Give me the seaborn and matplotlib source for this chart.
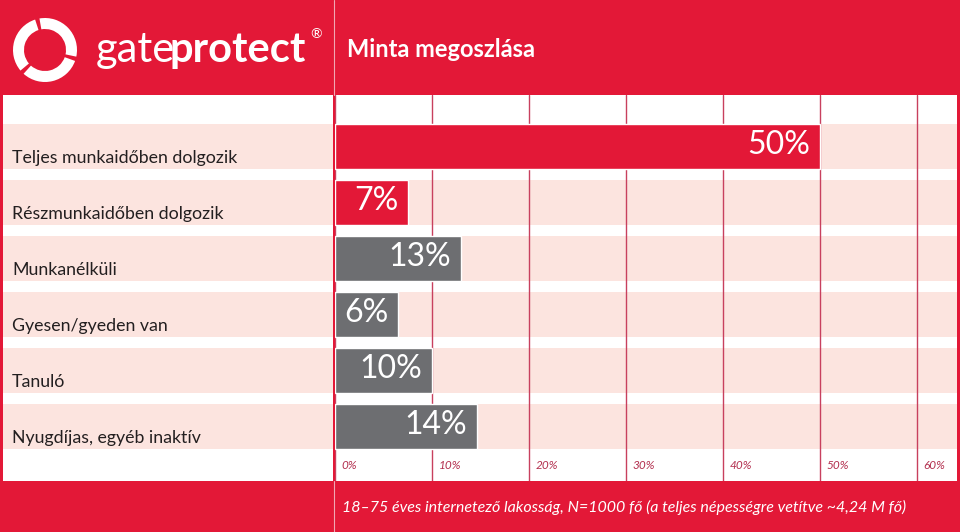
import matplotlib
matplotlib.use("Agg")
from matplotlib import pyplot as plt
from matplotlib.patches import Wedge
import seaborn as sns

# Data
categories = ['Teljes munkaidőben dolgozik', 'Részmunkaidőben dolgozik', 'Munkanélküli',
              'Gyesen/gyeden van', 'Tanuló', 'Nyugdíjas, egyéb inaktív']
shares = [50, 7.5, 13, 6.5, 10, 14.6]
share_labels = ['50%', '7%', '13%', '6%', '10%', '14%']
x_ticks = [0, 10, 20, 30, 40, 50, 60]
x_tick_labels = ['0%', '10%', '20%', '30%', '40%', '50%', '60%']
title = 'Minta megoszlása'
footnote = '18–75 éves internetező lakosság, N=1000 fő (a teljes népességre vetítve ~4,24 M fő)'

RED = '#e31837'
GREY = '#6d6e71'
PINK = '#fce4df'
GRID = '#c8405e'
bar_colors = [RED, RED, GREY, GREY, GREY, GREY]

sns.set_theme(style='white')
plt.rcParams['font.family'] = ['Lato', 'DejaVu Sans']

W, H = 960, 532
fig = plt.figure(figsize=(W / 100, H / 100), dpi=100, facecolor=RED)

def frac_rect(x0, y0, x1, y1):
    # pixel box (top-left origin) -> figure fraction rect
    return [x0 / W, 1 - y1 / H, (x1 - x0) / W, (y1 - y0) / H]

ylim = (5.973, -0.92)

# label panel
lab_ax = fig.add_axes(frac_rect(3, 95, 333, 481))
lab_ax.set_facecolor('white')
lab_ax.set_xlim(0, 1)
lab_ax.set_ylim(*ylim)
for i, name in enumerate(categories):
    lab_ax.axhspan(i - 0.4, i + 0.4, color=PINK, lw=0)
    lab_ax.text(0.027, i + 0.30, name, fontsize=12.8, color='#231f20', va='baseline', ha='left')
lab_ax.set_xticks([])
lab_ax.set_yticks([])
for s in lab_ax.spines.values():
    s.set_visible(False)

# bar panel
ax = fig.add_axes(frac_rect(335, 95, 957, 481))
ax.set_facecolor('white')
for i in range(len(categories)):
    ax.axhspan(i - 0.4, i + 0.4, color=PINK, lw=0, zorder=0)
for t in x_ticks:
    ax.axvline(t, color=GRID, lw=1, zorder=1)

sns.barplot(x=shares, y=categories, hue=categories, palette=bar_colors, orient='h',
            width=0.8, legend=False, saturation=1, ax=ax, zorder=2)
ax.set_xlim(0, 64.1)
ax.set_ylim(*ylim)
for i, (v, lab) in enumerate(zip(shares, share_labels)):
    ax.annotate(lab, xy=(v, i), xytext=(-7, 1), textcoords='offset points',
                ha='right', va='center', color='white', fontsize=23, zorder=3)
for t, lab in zip(x_ticks, x_tick_labels):
    ax.text(t + 0.65, 5.705, lab, fontsize=8.5, style='italic', color='#b3304f', va='center', ha='left')
ax.set_xticks([])
ax.set_yticks([])
ax.set_xlabel('')
ax.set_ylabel('')
for s in ax.spines.values():
    s.set_visible(False)

# header / footer decorations in pixel coordinates
deco = fig.add_axes([0, 0, 1, 1], zorder=10)
deco.set_xlim(0, W)
deco.set_ylim(H, 0)
deco.axis('off')
deco.patch.set_alpha(0)
deco.plot([333.5, 333.5], [0, 95], color='#f1a7b3', lw=0.8)
deco.plot([333.5, 333.5], [481, H], color='#f1a7b3', lw=0.8)

# logo ring
for start in (20, 140, 260):
    deco.add_patch(Wedge((45, 50), 32, start, start + 112, width=11, color='white', lw=0))
deco.text(96, 62, 'gate', fontsize=30, color='white', va='baseline', ha='left')
deco.text(169, 62, 'protect', fontsize=30, color='white', fontweight='bold', va='baseline', ha='left')
deco.text(310, 38, '®', fontsize=10, color='white', va='baseline', ha='left')

deco.text(347, 57, title, fontsize=17, color='white', fontweight='bold', va='baseline', ha='left')
deco.text(342, 512, footnote, fontsize=11.5, color='white', style='italic', va='baseline', ha='left')

fig.savefig('out.png', dpi=100, facecolor=RED)
